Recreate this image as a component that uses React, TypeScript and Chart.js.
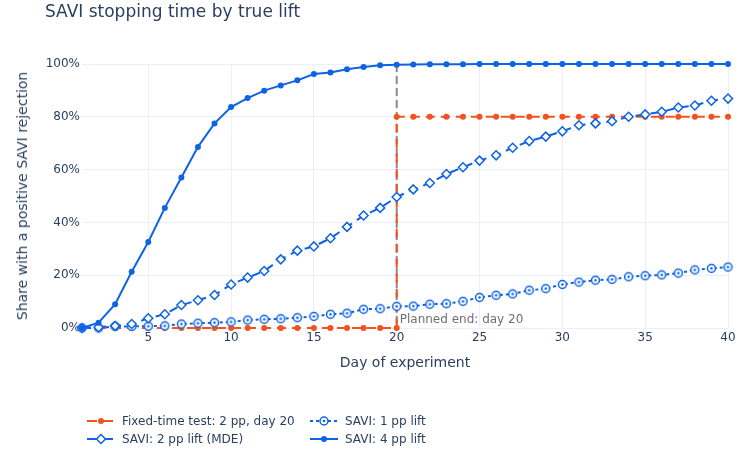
import React, { useEffect, useRef } from "react";
import Chart from "chart.js/auto";

// days of the experiment (x values)
const days = [
  1, 2, 3, 4, 5, 6, 7, 8, 9, 10, 11, 12, 13, 14, 15, 16, 17, 18, 19, 20,
  21, 22, 23, 24, 25, 26, 27, 28, 29, 30, 31, 32, 33, 34, 35, 36, 37, 38, 39, 40,
];

// fixed-time test: nothing before day 20, then all rejections at day 20
const fixedDays = [
  1, 2, 3, 4, 5, 6, 7, 8, 9, 10, 11, 12, 13, 14, 15, 16, 17, 18, 19, 20,
  20, 21, 22, 23, 24, 25, 26, 27, 28, 29, 30, 31, 32, 33, 34, 35, 36, 37, 38, 39, 40,
];
const fixedShare = [
  0, 0, 0, 0, 0, 0, 0, 0, 0, 0, 0, 0, 0, 0, 0, 0, 0, 0, 0, 0,
  80, 80, 80, 80, 80, 80, 80, 80, 80, 80, 80, 80, 80, 80, 80, 80, 80, 80, 80, 80, 80,
];

// share (%) with a positive SAVI rejection by day
const savi1pp = [
  0, 0, 0.6, 0.6, 0.7, 0.8, 1.5, 1.8, 2, 2.3, 3, 3.3, 3.5, 3.9, 4.4, 5.2, 5.6, 7.1, 7.3, 8.2,
  8.3, 9, 9.2, 10.1, 11.6, 12.4, 12.9, 14.3, 14.9, 16.5, 17.4, 18.1, 18.4, 19.4, 19.8, 20.1, 20.8, 22, 22.6, 23.1,
];
const savi2pp = [
  0, 0.3, 0.8, 1.5, 3.7, 5.2, 8.7, 10.5, 12.5, 16.5, 19.1, 21.6, 26, 29.3, 30.9, 34, 38.3, 42.6, 45.5, 49.6,
  52.5, 54.9, 58.3, 60.9, 63.4, 65.4, 68.3, 70.8, 72.5, 74.5, 76.8, 77.5, 78.3, 80, 80.9, 81.9, 83.5, 84.3, 86.1, 86.9,
];
const savi4pp = [
  0, 2, 9, 21.3, 32.6, 45.5, 57, 68.6, 77.5, 83.7, 87.1, 89.9, 91.9, 93.8, 96.2, 96.8, 98, 98.9, 99.5, 99.7,
  99.8, 99.9, 99.9, 99.9, 100, 100, 100, 100, 100, 100, 100, 100, 100, 100, 100, 100, 100, 100, 100, 100,
];

const xTicks = [5, 10, 15, 20, 25, 30, 35, 40];
const plannedDay = 20;

const INK = "#2a3f5f";
const BLUE = "#0d63e3";
const ORANGE = "#f4511e";
const GRID = "#ebf0f8";
const VLINE = "#8a8a8a";
const FONT = '"DejaVu Sans", verdana, arial, sans-serif';

const toPoints = (xs: number[], ys: number[]) => xs.map((x, i) => ({ x, y: ys[i] }));

// circle-open-dot marker
function openDotCircle(): HTMLCanvasElement {
  const c = document.createElement("canvas");
  c.width = 11;
  c.height = 11;
  const g = c.getContext("2d")!;
  g.beginPath();
  g.arc(5.5, 5.5, 4, 0, Math.PI * 2);
  g.fillStyle = "#fff";
  g.fill();
  g.lineWidth = 1.5;
  g.strokeStyle = BLUE;
  g.stroke();
  g.beginPath();
  g.arc(5.5, 5.5, 1.3, 0, Math.PI * 2);
  g.fillStyle = BLUE;
  g.fill();
  return c;
}

const plannedEnd = {
  id: "plannedEnd",
  beforeDatasetsDraw(chart: any) {
    const { ctx, chartArea, scales } = chart;
    const x = scales.x.getPixelForValue(plannedDay);
    ctx.save();
    ctx.strokeStyle = VLINE;
    ctx.lineWidth = 2;
    ctx.setLineDash([8, 4]);
    ctx.beginPath();
    ctx.moveTo(x, chartArea.top);
    ctx.lineTo(x, chartArea.bottom);
    ctx.stroke();
    ctx.restore();
  },
  afterDatasetsDraw(chart: any) {
    const { ctx, chartArea, scales } = chart;
    const x = scales.x.getPixelForValue(plannedDay);
    ctx.save();
    ctx.font = `12px ${FONT}`;
    ctx.fillStyle = "#6f6f6f";
    ctx.textAlign = "left";
    ctx.textBaseline = "alphabetic";
    ctx.fillText("Planned end: day 20", x + 3, chartArea.bottom - 5);
    ctx.restore();
  },
};

const legendItems = [
  { label: "Fixed-time test: 2 pp, day 20", kind: "fixed", left: 87, top: 421 },
  { label: "SAVI: 1 pp lift", kind: "p1", left: 310, top: 421 },
  { label: "SAVI: 2 pp lift (MDE)", kind: "p2", left: 87, top: 439 },
  { label: "SAVI: 4 pp lift", kind: "p4", left: 310, top: 439 },
];

function Sample({ kind }: { kind: string }) {
  const color = kind === "fixed" ? ORANGE : BLUE;
  const dash = kind === "p1" ? "3,3" : kind === "p4" ? undefined : "10,6";
  return (
    <svg width={28} height={12} style={{ display: "block" }}>
      <line x1={0} y1={6} x2={28} y2={6} stroke={color} strokeWidth={2} strokeDasharray={dash} />
      {kind === "fixed" || kind === "p4" ? <circle cx={14} cy={6} r={3} fill={color} /> : null}
      {kind === "p1" ? (
        <g>
          <circle cx={14} cy={6} r={4} fill="#fff" stroke={BLUE} strokeWidth={1.5} />
          <circle cx={14} cy={6} r={1.3} fill={BLUE} />
        </g>
      ) : null}
      {kind === "p2" ? (
        <polygon points="14,1.5 18.5,6 14,10.5 9.5,6" fill="#fff" stroke={BLUE} strokeWidth={1.5} />
      ) : null}
    </svg>
  );
}

const StoppingChart: React.FC = () => {
  const canvasRef = useRef<HTMLCanvasElement>(null);

  useEffect(() => {
    if (!canvasRef.current) return;
    const ctx = canvasRef.current.getContext("2d");
    if (!ctx) return;
    const dotMarker = openDotCircle();

    const chart = new Chart(ctx, {
      type: "line",
      data: {
        datasets: [
          {
            label: "Fixed-time test: 2 pp, day 20",
            data: toPoints(fixedDays, fixedShare),
            borderColor: ORANGE,
            backgroundColor: ORANGE,
            borderWidth: 2,
            borderDash: [9, 6],
            pointRadius: 3,
            pointBorderWidth: 0,
            order: 4,
          },
          {
            label: "SAVI: 1 pp lift",
            data: toPoints(days, savi1pp),
            borderColor: BLUE,
            backgroundColor: BLUE,
            borderWidth: 2,
            borderDash: [3, 3],
            pointStyle: dotMarker as any,
            order: 3,
          },
          {
            label: "SAVI: 2 pp lift (MDE)",
            data: toPoints(days, savi2pp),
            borderColor: BLUE,
            backgroundColor: BLUE,
            borderWidth: 2,
            borderDash: [9, 6],
            pointStyle: "rectRot",
            pointRadius: 4.5,
            pointBackgroundColor: "#fff",
            pointBorderColor: BLUE,
            pointBorderWidth: 1.5,
            order: 2,
          },
          {
            label: "SAVI: 4 pp lift",
            data: toPoints(days, savi4pp),
            borderColor: BLUE,
            backgroundColor: BLUE,
            borderWidth: 2,
            pointRadius: 3,
            pointBorderWidth: 0,
            order: 1,
          },
        ],
      },
      options: {
        responsive: false,
        animation: false,
        clip: false as any,
        elements: { line: { tension: 0 } },
        layout: { padding: { left: 0, right: 23, top: 64, bottom: 112 } },
        plugins: {
          legend: { display: false },
          title: { display: false },
          tooltip: { enabled: false },
        },
        scales: {
          x: {
            type: "linear",
            min: 1,
            max: 40,
            afterBuildTicks: (s: any) => {
              s.ticks = xTicks.map((v) => ({ value: v }));
            },
            afterFit: (s: any) => {
              s.height = 30;
            },
            grid: { color: GRID, drawTicks: false, lineWidth: 1 },
            border: { display: false },
            ticks: {
              autoSkip: false,
              maxRotation: 0,
              padding: 3,
              color: INK,
              font: { family: FONT, size: 12 },
            },
          },
          y: {
            min: 0,
            max: 100,
            afterFit: (s: any) => {
              s.width = 82;
            },
            grid: { color: GRID, drawTicks: false, lineWidth: 1 },
            border: { display: false },
            ticks: {
              stepSize: 20,
              padding: 2,
              color: INK,
              font: { family: FONT, size: 12 },
              callback: (v: any) => `${v}%`,
            },
          },
        },
      },
      plugins: [plannedEnd],
    });

    return () => {
      chart.destroy();
    };
  }, []);

  return (
    <div style={{ position: "absolute", left: 0, top: 0, width: 751, height: 470, fontFamily: FONT, color: INK }}>
      <canvas ref={canvasRef} width={751} height={470} style={{ position: "absolute", left: 0, top: 0 }} />
      <div style={{ position: "absolute", left: 45, top: 3, fontSize: 17, lineHeight: "17px", whiteSpace: "nowrap" }}>
        SAVI stopping time by true lift
      </div>
      <div
        style={{
          position: "absolute",
          left: 22,
          top: 196,
          fontSize: 14,
          lineHeight: "14px",
          whiteSpace: "nowrap",
          transform: "translate(-50%, -50%) rotate(-90deg)",
        }}
      >
        Share with a positive SAVI rejection
      </div>
      <div
        style={{
          position: "absolute",
          left: 405,
          top: 362,
          fontSize: 14,
          lineHeight: "14px",
          whiteSpace: "nowrap",
          transform: "translate(-50%, -50%)",
        }}
      >
        Day of experiment
      </div>
      {legendItems.map((it) => (
        <div
          key={it.label}
          style={{
            position: "absolute",
            left: it.left,
            top: it.top - 7,
            height: 14,
            display: "flex",
            alignItems: "center",
            fontSize: 12,
            whiteSpace: "nowrap",
          }}
        >
          <Sample kind={it.kind} />
          <span style={{ marginLeft: 7, lineHeight: "14px" }}>{it.label}</span>
        </div>
      ))}
    </div>
  );
};

export default function App() {
  return <StoppingChart />;
}
